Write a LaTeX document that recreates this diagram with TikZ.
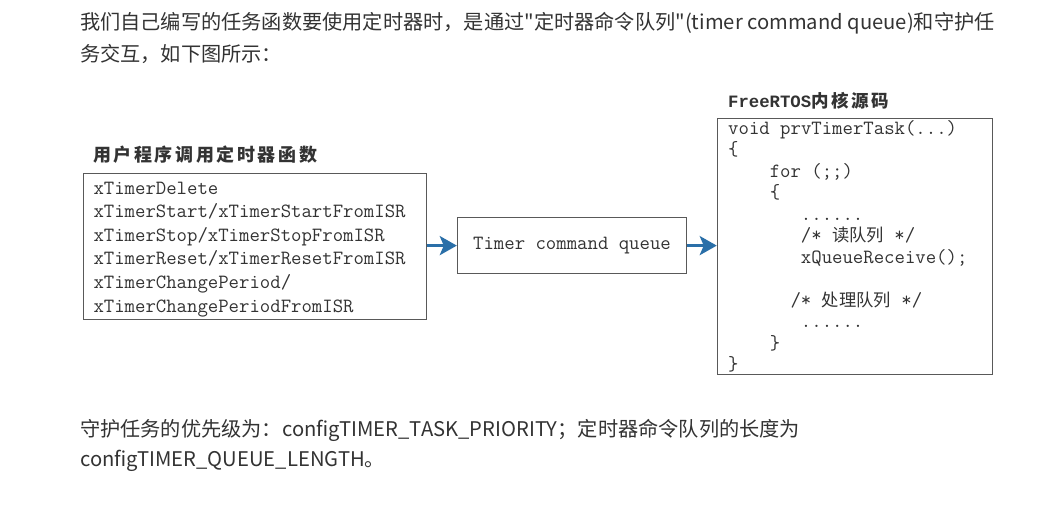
\documentclass[tikz,border=0pt]{standalone}
\usepackage{fontspec}
\setmainfont{Liberation Serif}
\newfontfamily\cjk{Noto Sans CJK SC}
\newfontfamily\codefont{Latin Modern Mono}
\newfontfamily\boldcode{Liberation Mono}
\usetikzlibrary{arrows.meta}
\definecolor{txt}{HTML}{333333}
\definecolor{codetxt}{HTML}{333333}
\definecolor{arrowblue}{HTML}{2A6FA8}
\definecolor{boxline}{HTML}{595959}
\newcommand\gapp{\hspace{2.6pt}}
\newlength\cw \setlength\cw{10.395pt}
\newcommand\cjkcode[1]{{\cjk\fontsize{17.3}{21.5}\selectfont #1}}
\tikzset{
  para/.style={anchor=west, inner sep=0pt, text=txt, font=\cjk\fontsize{20.2}{24}\selectfont},
  framebox/.style={draw=boxline, line width=1pt, inner sep=0pt, fill=white},
  codeline/.style={anchor=base west, inner sep=0pt, text=codetxt, font=\codefont\fontsize{20.2}{21.5}\selectfont},
  titletext/.style={inner sep=0pt, text=txt},
  flow/.style={draw=arrowblue, line width=3pt, -{Stealth[length=17pt,width=19pt,inset=4pt]}},
}
\begin{document}
\begin{tikzpicture}[x=1pt,y=-1pt]
\useasboundingbox (0,0) rectangle (1045,512);
\fill[white] (0,0) rectangle (1045,512);

% paragraphs
\node[para] (p1) at (80,23) {我们自己编写的任务函数要使用定时器时，是通过"定时器命令队列"(timer command queue)和守护任};
\node[para] (p2) at (80,54) {务交互，如下图所示：};
\node[para] (p3) at (80,430) {守护任务的优先级为：configTIMER\_TASK\_PRIORITY；定时器命令队列的长度为};
\node[para] (p4) at (80,461) {configTIMER\_QUEUE\_LENGTH。};

% left block
\node[titletext, anchor=west, font=\cjk\bfseries\fontsize{18}{20}\selectfont] (usertitle) at (93,155)
  {用\gapp 户\gapp 程\gapp 序\gapp 调\gapp 用\gapp 定\gapp 时\gapp 器\gapp 函\gapp 数};
\node[framebox, minimum width=343pt, minimum height=146.5pt] (user) at (254.5,246.25) {};
\node[codeline] (u1) at (93.3,194)   {xTimerDelete};
\node[codeline] (u2) at (93.3,217.6) {xTimerStart/xTimerStartFromISR};
\node[codeline] (u3) at (93.3,241.2) {xTimerStop/xTimerStopFromISR};
\node[codeline] (u4) at (93.3,264.8) {xTimerReset/xTimerResetFromISR};
\node[codeline] (u5) at (93.3,288.4) {xTimerChangePeriod/};
\node[codeline] (u6) at (93.3,312)   {xTimerChangePeriodFromISR};

% middle block
\node[framebox, minimum width=229.4pt, minimum height=56.7pt,
      font=\codefont\fontsize{20.2}{21.5}\selectfont, text=codetxt] (queue) at (572,245.6) {Timer command queue};

% right block
\node[titletext, anchor=base west] (kerneltitle) at (728,107)
  {\boldcode\bfseries\fontsize{17.3}{20}\selectfont FreeRTOS\cjk\bfseries\fontsize{17.5}{20}\selectfont 内\gapp 核\gapp 源\gapp 码};
\node[framebox, minimum width=275.5pt, minimum height=256pt] (kernel) at (855,246) {};
\node[codeline] (c1)  at (728,134.3) {void prvTimerTask(...)};
\node[codeline] (c2)  at (728,155.8) {\{};
\node[codeline] (c3)  at (728,177.3) {\hspace*{4\cw}for (;;)};
\node[codeline] (c4)  at (728,198.8) {\hspace*{4\cw}\{};
\node[codeline] (c5)  at (728,220.3) {\hspace*{7\cw}......};
\node[codeline] (c6)  at (728,241.8) {\hspace*{7\cw}/* \cjkcode{读队列} */};
\node[codeline] (c7)  at (728,263.3) {\hspace*{7\cw}xQueueReceive();};
\node[codeline] (c8)  at (728,306.3) {\hspace*{6\cw}/* \cjkcode{处理队列} */};
\node[codeline] (c9)  at (728,327.8) {\hspace*{7\cw}......};
\node[codeline] (c10) at (728,349.3) {\hspace*{4\cw}\}};
\node[codeline] (c11) at (728,370.8) {\}};

% connectors
\draw[flow] (user.east |- queue.west) -- (queue.west);
\draw[flow] (queue.east) -- (queue.east -| kernel.west);
\end{tikzpicture}
\end{document}
